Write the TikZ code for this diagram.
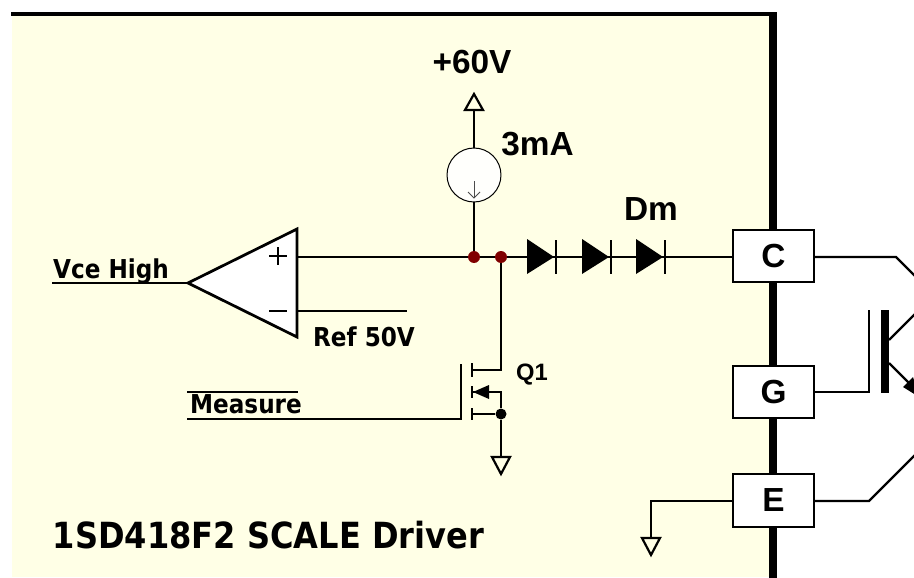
\documentclass[tikz,border=0pt]{standalone}
\usepackage{fontspec}
\setmainfont{Liberation Sans}
\newfontfamily\titlefont[FakeStretch=0.89]{DejaVu Sans}
\definecolor{panelcol}{HTML}{FFFFE6}
\definecolor{dotcol}{HTML}{800000}

\begin{document}
\begin{tikzpicture}[x=0.02cm,y=-0.02cm]
\tikzstyle{wire} = [draw, line width=0.44mm, line join=miter]
\tikzstyle{pin} = [draw, line width=0.4mm, fill=white, minimum width=1.62cm, minimum height=1.05cm, inner sep=0, font=\bfseries\fontsize{19}{19}\selectfont]
\tikzstyle{junc} = [circle, fill=dotcol, minimum size=0.24cm, inner sep=0]
\tikzstyle{bjunc} = [circle, fill=black, minimum size=0.22cm, inner sep=0]
\tikzstyle{lab} = [inner sep=0, font=\bfseries\fontsize{19}{20}\selectfont]
\tikzstyle{slab} = [inner sep=0, font=\titlefont\bfseries\fontsize{14.8}{16}\selectfont]
\tikzstyle{thin tri} = [draw, line width=0.44mm, fill=panelcol, line join=miter]

\useasboundingbox (0,0) rectangle (914,578);
\clip (0,0) rectangle (914,578);

% Pannello
\fill[panelcol] (12,14) rectangle (773,577);
\draw[line width=1mm] (11,14) -- (777,14);
\draw[line width=1.42mm] (773,12) -- (773,578);

% Pin del driver
\node[pin] (C) at (773.5,256) {C};
\node[pin] (G) at (773.5,392) {G};
\node[pin] (E) at (773.5,500.5) {E};

% Giunzioni
\node[junc] (j1) at (474,257) {};
\node[junc] (j2) at (501,257) {};

% Comparatore
\coordinate (optip) at (188,283);
\coordinate (optop) at (297,229);
\coordinate (opbot) at (297,337);
\coordinate (opplus) at (297,257);
\coordinate (opminus) at (297,311);
\coordinate (vcein) at (52,283);
\coordinate (refend) at (407,311);
\draw[wire] (vcein) -- (optip);
\draw[wire] (opminus) -- (refend);
\draw[wire] (opplus) -- (j1);
\draw[wire] (j1) -- (j2);
\draw[wire] (j2) -- (C.west |- j2);
\draw[fill=white, line width=0.55mm, line join=miter] (optip) -- (optop) -- (opbot) -- cycle;
\draw[wire] (269,256) -- (287,256);
\draw[wire] (278,247) -- (278,265);
\draw[wire] (269,311) -- (287,311);

% Diodi
\foreach \i/\x in {1/527,2/582,3/636} {
  \fill (\x,239) -- (\x+27,257) -- (\x,274) -- cycle;
  \draw[wire] (\x+29,240) -- (\x+29,274);
}

% Generatore di corrente
\node[circle, draw, line width=0.2mm, fill=white!90!panelcol, minimum size=1.08cm, inner sep=0] (isrc) at (474,175) {};
\coordinate (vplus) at (474,110);
\draw[wire] (j1) -- (isrc);
\draw[wire] (isrc) -- (vplus);
\draw[thin tri] (465,110) -- (474,94) -- (483,110) -- cycle;
\draw[line width=0.15mm, black!70] (474,181) -- (474,198);
\draw[line width=0.15mm, black!70] (468,192) -- (474,198) -- (480,192);

% MOSFET Q1
\coordinate (qd) at (472,370);
\coordinate (qs) at (472,392);
\coordinate (qb) at (472,414);
\coordinate (qg) at (461,419);
\coordinate (qin) at (187,419);
\node[bjunc] (qn) at (501,414) {};
\coordinate (qgnd) at (501,457);
\draw[wire] (j2) |- (qd);
\draw[wire] (qs) -| (qn);
\draw[wire] (qb) -- (qn);
\draw[wire] (qn) -- (qgnd);
\draw[wire] (qin) -- (qg) -- (461,364);
\draw[wire] (472,363) -- (472,377);
\draw[wire] (472,386) -- (472,398);
\draw[wire] (472,408) -- (472,420);
\fill (473,392) -- (489,385) -- (489,399) -- cycle;
\draw[thin tri] (492,457) -- (510,457) -- (501,474) -- cycle;

% Massa sul pin E
\coordinate (egnd) at (651,538);
\draw[wire] (E.west |- 651,501) -| (egnd);
\draw[thin tri] (642,538) -- (660,538) -- (651,555) -- cycle;

% IGBT
\coordinate (gbend) at (869,392);
\draw[wire] (G.east) -- (gbend) -- (869,310);
\fill (881,310) rectangle (889,393);
\draw[wire] (C.east |- 896,257) -- (896,257) -- (930,291);
\draw[wire] (889,340) -- (930,299);
\draw[wire] (889,363) -- (912,386);
\fill (903,387) -- (913,377) -- (919,397) -- cycle;
\draw[wire] (E.east |- 869,501) -- (869,501) -- (930,440);

% Etichette
\node[lab] (lv) at (472,62) {+60V};
\node[lab] (li) at (537.5,144) {3mA};
\node[lab] (ld) at (651,209) {Dm};
\node[slab] (lvce) at (111,271) {Vce High};
\node[slab] (lref) at (364,337) {Ref 50V};
\node[slab] (lmeas) at (246,404) {Measure};
\draw[wire] (187,392) -- (298,392);
\node[lab, font=\bfseries\fontsize{13.5}{14}\selectfont] (lq) at (532,375) {Q1};
\node[inner sep=0, font=\titlefont\bfseries\fontsize{20.5}{22}\selectfont] (ltitle) at (268.5,535) {1SD418F2 SCALE Driver};
\end{tikzpicture}
\end{document}
